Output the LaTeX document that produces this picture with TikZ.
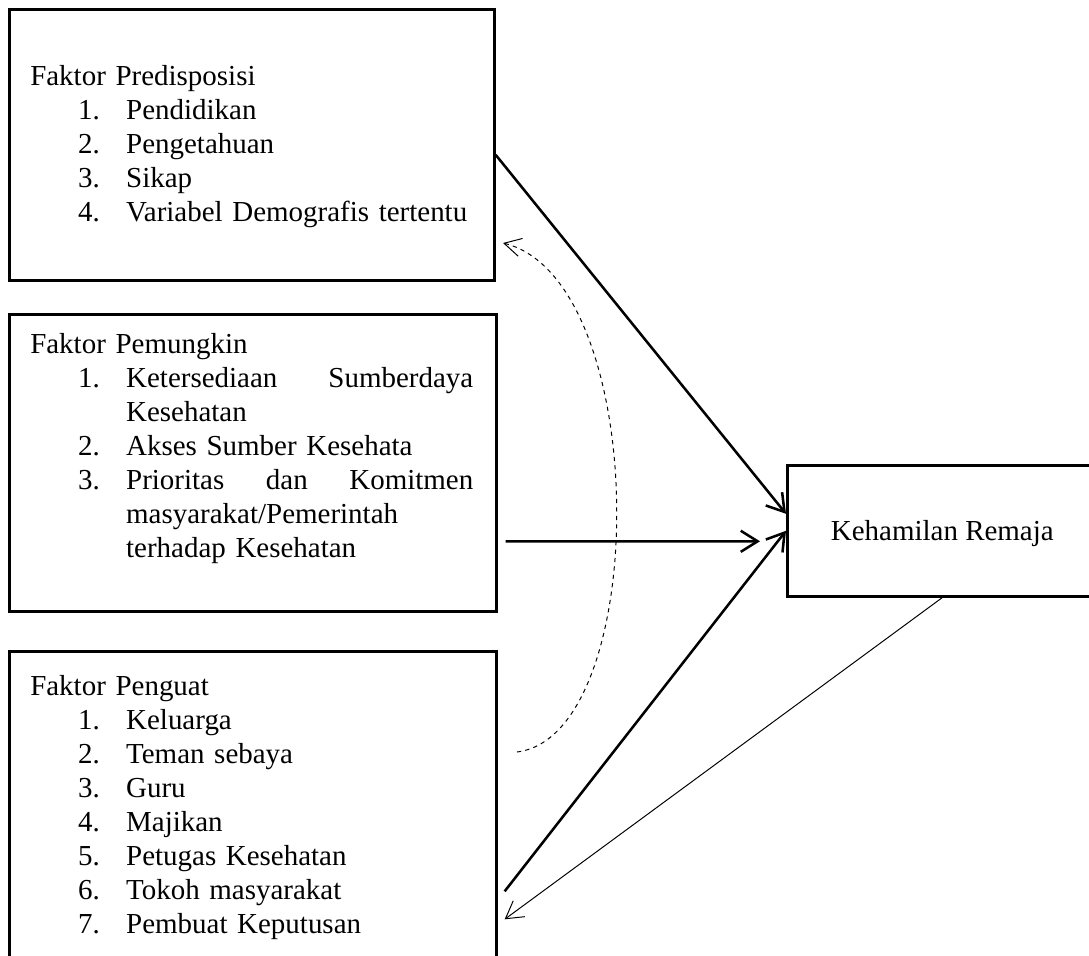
\documentclass[tikz,border=0pt]{standalone}
\usepackage{fontspec}
\setmainfont{Liberation Serif}
\usetikzlibrary{arrows.meta,positioning}

\newcommand{\butir}[2]{\hspace*{34.1pt}\makebox[34.1pt][l]{#1}#2}
\newcommand{\lanjut}[1]{\hspace*{68.2pt}#1}
\newcommand{\rata}[1]{\makebox[8.675cm][l]{#1}}

\tikzset{
  kotak/.style={draw, line width=1.8pt, inner sep=0pt, anchor=north west,
    font=\fontsize{20.6}{24.2}\selectfont},
  isi/.style={anchor=base west, inner sep=0pt, text width=11cm, align=left,
    font=\fontsize{20.6}{24.2}\selectfont},
  panah/.style={-{Straight Barb[length=12pt,width=15pt]}, line width=1.8pt},
  balik/.style={-{Straight Barb[length=12pt,width=14pt]}, line width=0.7pt},
  putus/.style={-{Straight Barb[length=12pt,width=13pt]}, dashed, line width=0.7pt},
}

\begin{document}
\begin{tikzpicture}[x=0.025cm, y=-0.025cm]
\useasboundingbox (0,0) rectangle (1089,955);
\clip (0,0) rectangle (1089,955);

% kotak faktor
\node[kotak, minimum width=12.125cm, minimum height=6.775cm] (pred) at (8,8) {};
\node[kotak, minimum width=12.175cm, minimum height=7.425cm] (pem) at (8,313) {};
\node[kotak, minimum width=12.175cm, minimum height=7.9cm] (peng) at (8,650) {};
\node[kotak, minimum width=7.75cm, minimum height=3.275cm, text depth=0pt] (hr) at (786,464) {Kehamilan Remaja};

% isi kotak
\node[isi] (tpred) at (30,85) {Faktor Predisposisi\\
  \butir{1.}{Pendidikan}\\
  \butir{2.}{Pengetahuan}\\
  \butir{3.}{Sikap}\\
  \butir{4.}{Variabel Demografis tertentu}};
\node[isi] (tpem) at (30,353) {Faktor Pemungkin\\
  \butir{1.}{\rata{Ketersediaan\hfill Sumberdaya}}\\
  \lanjut{Kesehatan}\\
  \butir{2.}{Akses Sumber Kesehata}\\
  \butir{3.}{\rata{Prioritas\hfill dan\hfill Komitmen}}\\
  \lanjut{masyarakat/Pemerintah}\\
  \lanjut{terhadap Kesehatan}};
\node[isi] (tpeng) at (30,695) {Faktor Penguat\\
  \butir{1.}{Keluarga}\\
  \butir{2.}{Teman sebaya}\\
  \butir{3.}{Guru}\\
  \butir{4.}{Majikan}\\
  \butir{5.}{Petugas Kesehatan}\\
  \butir{6.}{Tokoh masyarakat}\\
  \butir{7.}{Pembuat Keputusan}};

% panah
\draw[panah] ([shift={(0,10)}]pred.east) -- ([shift={(0,-17)}]hr.west);
\draw[panah] ([shift={(8,78.5)}]pem.east) -- ([shift={(-26,10.5)}]hr.west);
\draw[panah] ([shift={(7,82)}]peng.east) -- (hr.west);
\draw[balik] (hr.south) -- ([shift={(7,110)}]peng.east);

% umpan balik putus-putus
\coordinate (dmulai) at (517,752);
\coordinate (dakhir) at (503,243);
\draw[putus] (dmulai) .. controls (652,735) and (652,280) .. (dakhir);
\end{tikzpicture}
\end{document}
